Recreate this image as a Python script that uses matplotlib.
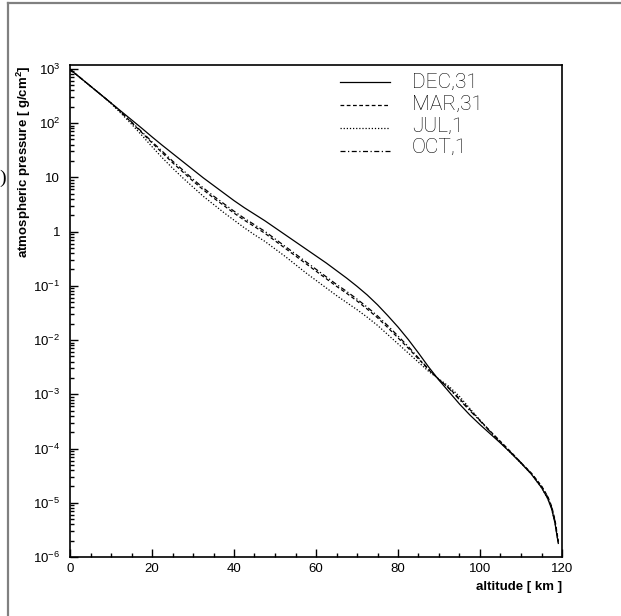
import numpy as np
import matplotlib
matplotlib.use('Agg')
import matplotlib.pyplot as plt
from matplotlib.lines import Line2D
from matplotlib.ticker import FixedLocator, LogLocator, MultipleLocator, NullFormatter

plt.rcParams['font.family'] = ['Liberation Sans', 'DejaVu Sans']
plt.rcParams['mathtext.fontset'] = 'custom'
plt.rcParams['mathtext.rm'] = 'Liberation Sans'
plt.rcParams['mathtext.it'] = 'Liberation Sans:italic'
plt.rcParams['mathtext.bf'] = 'Liberation Sans:bold'

# altitude [km] and log10 of pressure [g/cm2]
altitude = [0, 2.5, 5, 7.5, 10, 12.5, 15, 17.5, 20, 22.5, 25, 27.5, 30, 32.5, 35, 37.5,
            40, 42.5, 45, 47.5, 50, 52.5, 55, 57.5, 60, 62.5, 65, 67.5, 70, 72.5, 75,
            77.5, 80, 82.5, 85, 87.5, 90, 92.5, 95, 97.5, 100, 102.5, 105, 107.5, 110,
            112.5, 115, 116.5, 117.5, 118.3, 118.8, 119.1]
dec_log = [2.99, 2.835, 2.68, 2.525, 2.37, 2.215, 2.06, 1.905, 1.745, 1.59, 1.44, 1.29,
           1.14, 0.99, 0.85, 0.71, 0.57, 0.44, 0.32, 0.20, 0.07, -0.06, -0.19, -0.32,
           -0.45, -0.58, -0.72, -0.86, -1.01, -1.17, -1.35, -1.55, -1.76, -1.99, -2.24,
           -2.50, -2.74, -2.96, -3.18, -3.38, -3.56, -3.73, -3.90, -4.08, -4.27, -4.47,
           -4.72, -4.92, -5.12, -5.38, -5.62, -5.75]
mar_log = [2.99, 2.835, 2.68, 2.525, 2.37, 2.195, 2.01, 1.825, 1.635, 1.45, 1.27, 1.10,
           0.93, 0.77, 0.62, 0.48, 0.34, 0.21, 0.09, -0.03, -0.17, -0.31, -0.45, -0.59,
           -0.73, -0.87, -1.01, -1.14, -1.28, -1.43, -1.59, -1.77, -1.96, -2.15, -2.35,
           -2.55, -2.73, -2.89, -3.08, -3.28, -3.48, -3.68, -3.87, -4.06, -4.26, -4.45,
           -4.69, -4.88, -5.07, -5.32, -5.56, -5.71]
jul_log = [2.99, 2.835, 2.68, 2.525, 2.36, 2.175, 1.98, 1.775, 1.565, 1.36, 1.17, 0.99,
           0.82, 0.65, 0.50, 0.35, 0.21, 0.07, -0.06, -0.18, -0.32, -0.46, -0.61, -0.76,
           -0.90, -1.04, -1.18, -1.31, -1.44, -1.58, -1.73, -1.90, -2.07, -2.24, -2.41,
           -2.58, -2.72, -2.86, -3.04, -3.26, -3.48, -3.69, -3.89, -4.08, -4.27, -4.47,
           -4.72, -4.92, -5.12, -5.37, -5.61, -5.74]
oct_log = [2.99, 2.835, 2.68, 2.525, 2.37, 2.20, 2.02, 1.84, 1.655, 1.48, 1.30, 1.135,
           0.965, 0.805, 0.655, 0.515, 0.375, 0.245, 0.125, 0.005, -0.135, -0.275, -0.415,
           -0.555, -0.695, -0.835, -0.975, -1.105, -1.245, -1.395, -1.555, -1.735, -1.925,
           -2.12, -2.33, -2.54, -2.73, -2.90, -3.10, -3.30, -3.49, -3.69, -3.88, -4.07,
           -4.26, -4.46, -4.70, -4.89, -5.09, -5.34, -5.59, -5.73]

labels = ['DEC,31', 'MAR,31', 'JUL,1', 'OCT,1']
styles = ['-', (0, (3, 2)), (0, (1, 1.5)), (0, (4, 2, 1, 2))]
series = [dec_log, mar_log, jul_log, oct_log]

ytick_exp = [3, 2, 1, 0, -1, -2, -3, -4, -5, -6]
ytick_text = [r'$10^{3}$', r'$10^{2}$', '10', '1', r'$10^{-1}$', r'$10^{-2}$',
              r'$10^{-3}$', r'$10^{-4}$', r'$10^{-5}$', r'$10^{-6}$']

W, H = 621, 616
fig = plt.figure(figsize=(W / 100, H / 100), dpi=100)
ax = fig.add_axes([70 / W, 1 - 557 / H, 492 / W, 492 / H])

for vals, ls, lab in zip(series, styles, labels):
    ax.plot(altitude, 10 ** np.array(vals), color='black', linestyle=ls, lw=0.9, label=lab)

ax.set_yscale('log')
ax.set_xlim(0, 120)
ax.set_ylim(1e-6, 10 ** 3.07)

ax.xaxis.set_major_locator(MultipleLocator(20))
ax.xaxis.set_minor_locator(MultipleLocator(5))
ax.yaxis.set_major_locator(FixedLocator([10.0 ** e for e in ytick_exp]))
ax.set_yticklabels(ytick_text)
ax.yaxis.set_minor_locator(LogLocator(base=10, subs=np.arange(2, 10)))
ax.yaxis.set_minor_formatter(NullFormatter())

ax.tick_params(which='both', direction='in', top=False, right=False, width=1.0,
               labelsize=9.5)
ax.tick_params(which='major', length=6)
ax.tick_params(which='minor', length=3)
ax.tick_params(axis='y', pad=7)
ax.tick_params(axis='x', pad=4)
for sp in ax.spines.values():
    sp.set_linewidth(1.2)

# axis titles, ROOT style at the end of the axes
fig.text(24 / W, 1 - 65 / H, r'atmospheric pressure [ g/cm$^{\mathbf{2}}$]',
         rotation=90, ha='center', va='top', fontsize=9.5, fontweight='bold')
fig.text(562 / W, 1 - 587 / H, 'altitude [ km ]', ha='right', va='center',
         fontsize=9.5, fontweight='bold')

# legend without frame
line_y = [82, 105, 128, 151]
text_y = [82.5, 104, 126, 147.5]
for lab, ls, ly, ty in zip(labels, styles, line_y, text_y):
    yl = 1 - (ly - 65) / 492
    yt = 1 - (ty - 65) / 492
    ax.plot([0.549, 0.650], [yl, yl], transform=ax.transAxes, color='black',
            linestyle=ls, lw=0.9)
    ax.text(0.695, yt, lab, transform=ax.transAxes, ha='left', va='center',
            fontsize=15, fontweight='light', family=['Roboto', 'DejaVu Sans'])

# page frame and the cut-off panel label
fig.add_artist(Line2D([8 / W, 8 / W], [0, 1 - 3 / H], color='#808080', lw=1.6))
fig.add_artist(Line2D([8 / W, 1], [1 - 3 / H, 1 - 3 / H], color='#808080', lw=1.6))
fig.text(6 / W, 1 - 178 / H, ')', ha='right', va='center', fontsize=14,
         family=['Liberation Serif', 'DejaVu Serif'])

fig.savefig('out.png', dpi=100)
